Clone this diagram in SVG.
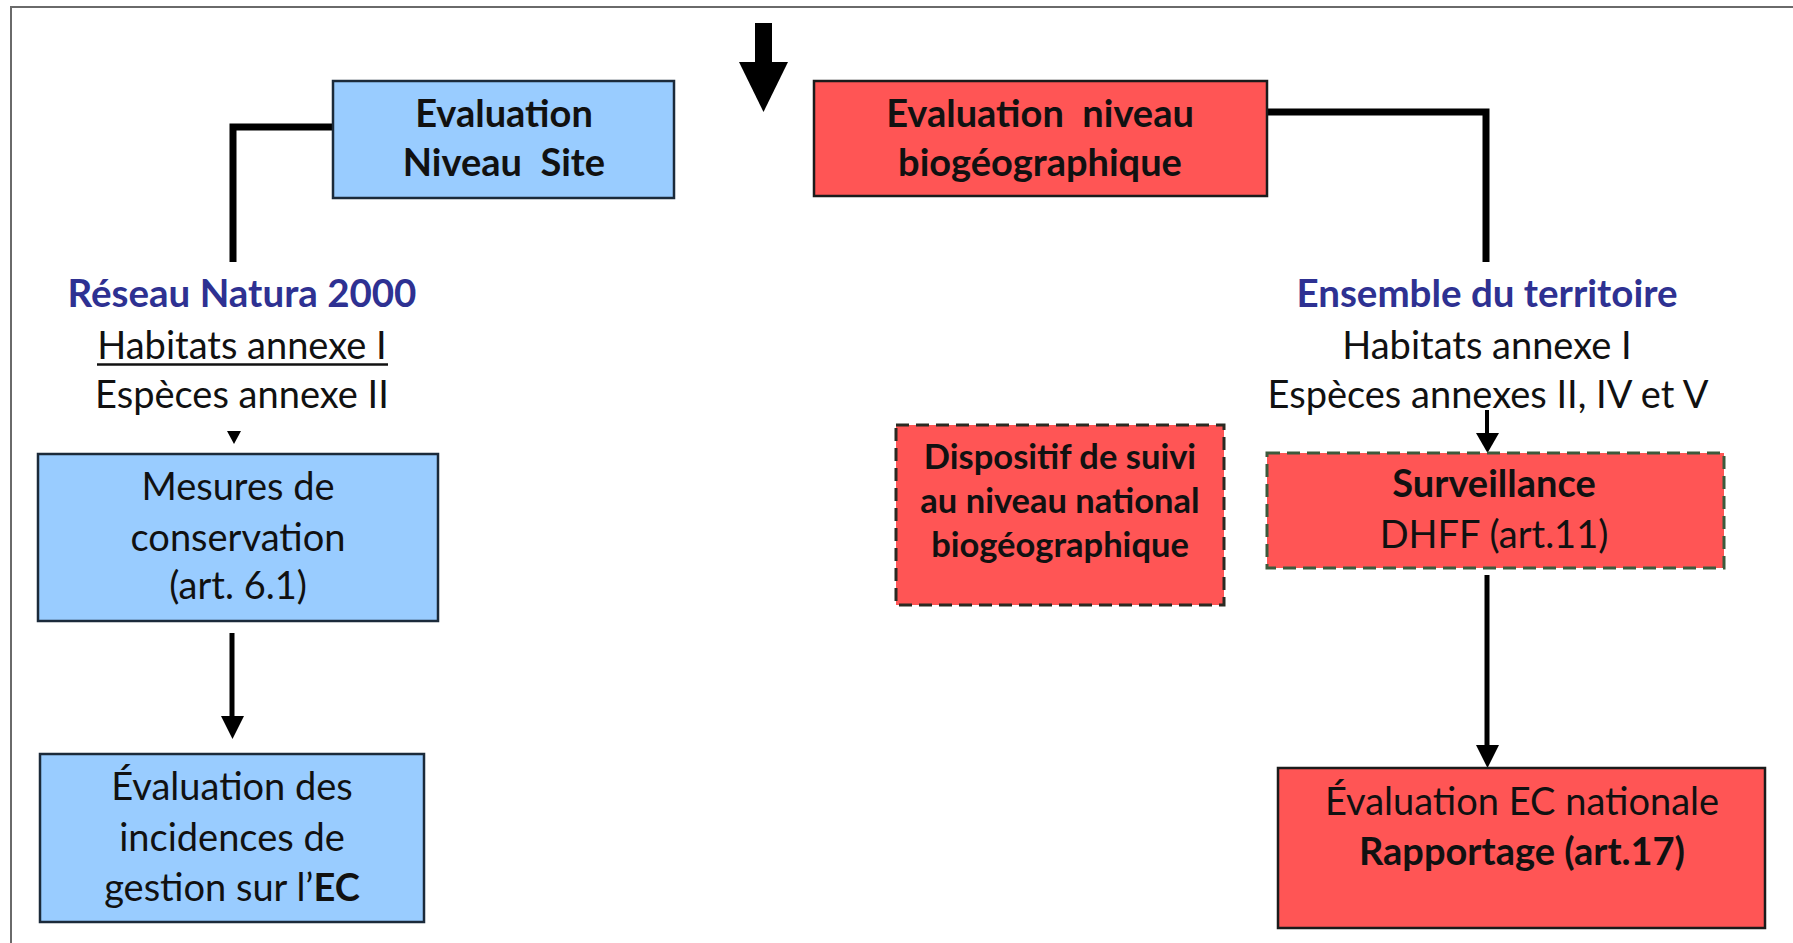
<svg xmlns="http://www.w3.org/2000/svg" width="1793" height="943" viewBox="0 0 1793 943">
<style>
  text { font-family: Lato, "Open Sans", "Liberation Sans", sans-serif; fill: #111; text-anchor: middle; }
  .t { font-size: 38px; }
  .b { font-weight: bold; }
  .hd { fill: #2E3192; font-weight: bold; font-size: 38.5px; }
  .sm { font-size: 34.5px; font-weight: bold; }
  .blue { fill: #99CCFF; stroke: #1B2A3A; stroke-width: 2.5; }
  .red { fill: #FF5555; stroke: #1B1B1B; stroke-width: 2.5; }
  .dash1 { fill: #FF5555; stroke: #2A2A22; stroke-width: 3; stroke-dasharray: 13 7; }
  .dash2 { fill: #FF5555; stroke: #3C5A3C; stroke-width: 3; stroke-dasharray: 13 7; }
  .ln { fill: none; stroke: #000; }
</style>
<rect width="1793" height="943" fill="#fff"/>
<path d="M11,943 V7 H1793" fill="none" stroke="#6a6a6a" stroke-width="2"/>

<g id="connectors">
  <rect x="755" y="23" width="17" height="40" fill="#000"/>
  <polygon points="739,62 788,62 763.5,112" fill="#000"/>
  <path class="ln" d="M333,127 H233 V262" stroke-width="7"/>
  <path class="ln" d="M1267,112 H1486 V262" stroke-width="7"/>
  <polygon points="227,431 241,431 234,444" fill="#000"/>
  <line class="ln" x1="232" y1="633" x2="232" y2="718" stroke-width="5"/>
  <polygon points="221,716 244,716 232.5,739" fill="#000"/>
  <line class="ln" x1="1487" y1="410" x2="1487" y2="435" stroke-width="4"/>
  <polygon points="1476,433 1499,433 1487.5,453" fill="#000"/>
  <line class="ln" x1="1487" y1="575" x2="1487" y2="747" stroke-width="5"/>
  <polygon points="1476,745 1499,745 1487.5,768" fill="#000"/>
</g>

<g id="site">
  <rect class="blue" x="333" y="81" width="341" height="117"/>
  <text class="t b" x="504" y="127">Evaluation</text>
  <text class="t b" x="504" y="176">Niveau&#160; Site</text>
</g>

<g id="bio">
  <rect class="red" x="814" y="81" width="453" height="115"/>
  <text class="t b" x="1040" y="127">Evaluation&#160; niveau</text>
  <text class="t b" x="1040" y="176">biogéographique</text>
</g>

<g id="natura">
  <text class="hd" x="242" y="307">Réseau Natura 2000</text>
  <text class="t" x="242" y="359">Habitats annexe I</text>
  <line x1="97" y1="364.5" x2="388" y2="364.5" stroke="#111" stroke-width="2.5"/>
  <text class="t" x="242" y="408">Espèces annexe II</text>
</g>

<g id="territoire">
  <text class="hd" x="1487" y="307">Ensemble du territoire</text>
  <text class="t" x="1487" y="359">Habitats annexe I</text>
  <text class="t" x="1488" y="408">Espèces annexes II, IV et V</text>
</g>

<g id="mesures">
  <rect class="blue" x="38" y="454" width="400" height="167"/>
  <text class="t" x="238" y="500">Mesures de</text>
  <text class="t" x="238" y="551">conservation</text>
  <text class="t" x="238" y="599">(art. 6.1)</text>
</g>

<g id="incidences">
  <rect class="blue" x="40" y="754" width="384" height="168"/>
  <text class="t" x="232" y="800">Évaluation des</text>
  <text class="t" x="232" y="851">incidences de</text>
  <text class="t" x="232" y="901">gestion sur l’<tspan class="b">EC</tspan></text>
</g>

<g id="dispositif">
  <rect class="dash1" x="896" y="425" width="328" height="180"/>
  <text class="sm" x="1060" y="469">Dispositif de suivi</text>
  <text class="sm" x="1060" y="513">au niveau national</text>
  <text class="sm" x="1060" y="557">biogéographique</text>
</g>

<g id="surveillance">
  <rect class="dash2" x="1267" y="453" width="457" height="115"/>
  <text class="t b" x="1494" y="497">Surveillance</text>
  <text class="t" x="1494" y="548">DHFF (art.11)</text>
</g>

<g id="rapportage">
  <rect class="red" x="1278" y="768" width="487" height="160"/>
  <text class="t" x="1522" y="815">Évaluation EC nationale</text>
  <text class="t b" x="1522" y="865">Rapportage (art.17)</text>
</g>
</svg>
